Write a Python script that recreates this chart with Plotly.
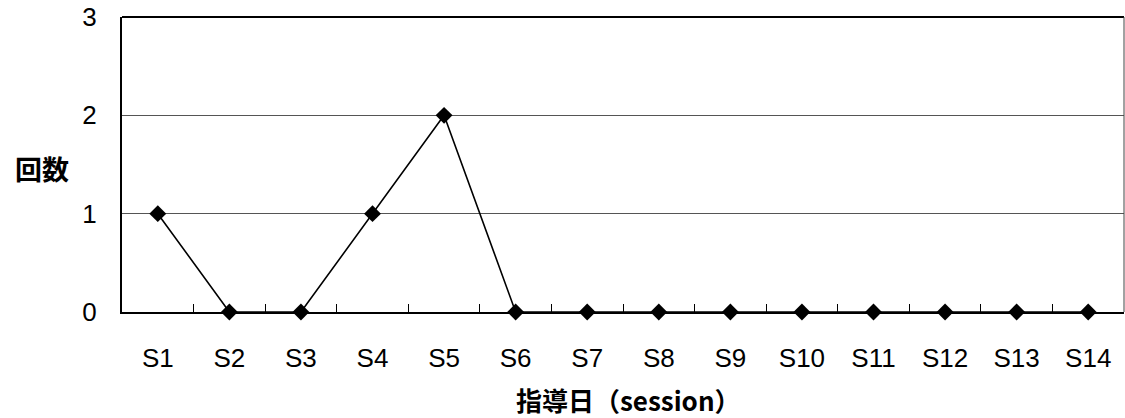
import plotly.graph_objects as go

sessions = ["S1", "S2", "S3", "S4", "S5", "S6", "S7", "S8", "S9", "S10", "S11", "S12", "S13", "S14"]
counts = [1, 0, 0, 1, 2, 0, 0, 0, 0, 0, 0, 0, 0, 0]
y_ticks = [0, 1, 2, 3]

fig = go.Figure()
fig.add_trace(go.Scatter(
    x=sessions, y=counts, mode="lines+markers",
    line=dict(color="black", width=1.6),
    marker=dict(symbol="diamond", size=13, color="black"),
    cliponaxis=False, showlegend=False,
))

font_lab = dict(family="Liberation Sans, Arial, sans-serif", size=26, color="black")

fig.update_layout(
    width=1125, height=418,
    margin=dict(l=122, r=1, t=17, b=106),
    paper_bgcolor="white", plot_bgcolor="white",
    xaxis=dict(
        type="category", range=[-0.5, 13.5],
        showline=True, linecolor="black", linewidth=2,
        ticks="inside", tickson="boundaries", ticklen=8, tickcolor="black", tickwidth=1,
        showgrid=False, tickfont=font_lab, ticklabelstandoff=22,
    ),
    yaxis=dict(
        range=[0, 3], tickvals=y_ticks,
        showline=True, linecolor="black", linewidth=2,
        showgrid=True, gridcolor="#555555", gridwidth=1,
        zeroline=False, ticks="", tickfont=font_lab, ticklabelstandoff=18,
        ticklabeloverflow="allow",
    ),
    shapes=[
        dict(type="line", xref="paper", yref="paper", x0=0, x1=1, y0=1, y1=1,
             line=dict(color="black", width=2)),
        dict(type="line", xref="paper", yref="paper", x0=1, x1=1, y0=0, y1=1,
             line=dict(color="#444444", width=1)),
    ],
    annotations=[
        dict(text="<b>回数</b>", xref="paper", yref="y", x=-0.0798, y=1.46,
             showarrow=False, xanchor="center", yanchor="middle",
             font=dict(family="Noto Sans CJK JP", size=27, color="black")),
        dict(text="<b>指導日（session）</b>", xref="paper", yref="paper", x=0.505, y=-0.298,
             showarrow=False, xanchor="center", yanchor="middle",
             font=dict(family="Noto Sans CJK JP, Liberation Sans", size=26, color="black")),
    ],
)

fig.write_html("out.html", config={"displayModeBar": False},
               post_script="document.body.style.margin='0';")
